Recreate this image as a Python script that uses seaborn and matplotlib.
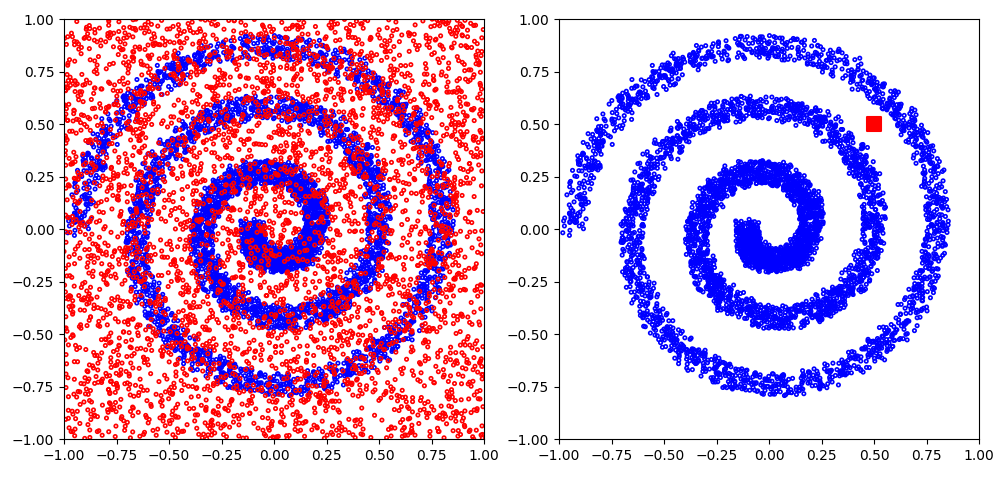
import numpy as np
import matplotlib
matplotlib.use("Agg")
import matplotlib.pyplot as plt
import seaborn as sns

# spiral centre-line: radius at every quarter turn,
# starting on the left side (angle pi) and winding counter-clockwise
turn_angles = np.pi * np.array([1.0, 1.5, 2.0, 2.5, 3.0, 3.5, 4.0, 4.5, 5.0, 5.5, 6.0, 6.5, 7.0])
turn_radii = [0.10, 0.15, 0.20, 0.27, 0.34, 0.42, 0.50, 0.58, 0.65, 0.74, 0.80, 0.87, 0.93]
n_spiral = 5000
n_noise = 4000
band_half = 0.055
target = ([0.5], [0.5])

# the picture is a noisy sample, so the scatter itself has to be sampled
rng = np.random.default_rng(3)
theta = rng.uniform(turn_angles[0], turn_angles[-1], n_spiral)
r = np.interp(theta, turn_angles, turn_radii)
sx = r * np.cos(theta) + rng.uniform(-band_half, band_half, n_spiral)
sy = r * np.sin(theta) + rng.uniform(-band_half, band_half, n_spiral)
nx = rng.uniform(-1, 1, n_noise)
ny = rng.uniform(-1, 1, n_noise)

fig = plt.figure(figsize=(10, 4.8))
ax1 = fig.add_axes([0.064, 0.0854, 0.42, 0.875])
ax2 = fig.add_axes([0.559, 0.0854, 0.42, 0.875])

pt = dict(marker="o", s=6, facecolors="none", linewidth=1.2, legend=False)

sns.scatterplot(x=sx, y=sy, edgecolor="blue", ax=ax1, **pt)
sns.scatterplot(x=nx, y=ny, edgecolor="red", ax=ax1, **pt)

sns.scatterplot(x=sx, y=sy, edgecolor="blue", ax=ax2, **pt)
sns.scatterplot(x=target[0], y=target[1], marker="s", s=100, color="red",
                edgecolor="red", linewidth=1.5, ax=ax2, legend=False, zorder=3)

ticks = np.arange(-1, 1.01, 0.25)
for ax in (ax1, ax2):
    ax.set_xlim(-1, 1)
    ax.set_ylim(-1, 1)
    ax.set_xticks(ticks)
    ax.set_yticks(ticks)

plt.savefig("out.png", dpi=100)
